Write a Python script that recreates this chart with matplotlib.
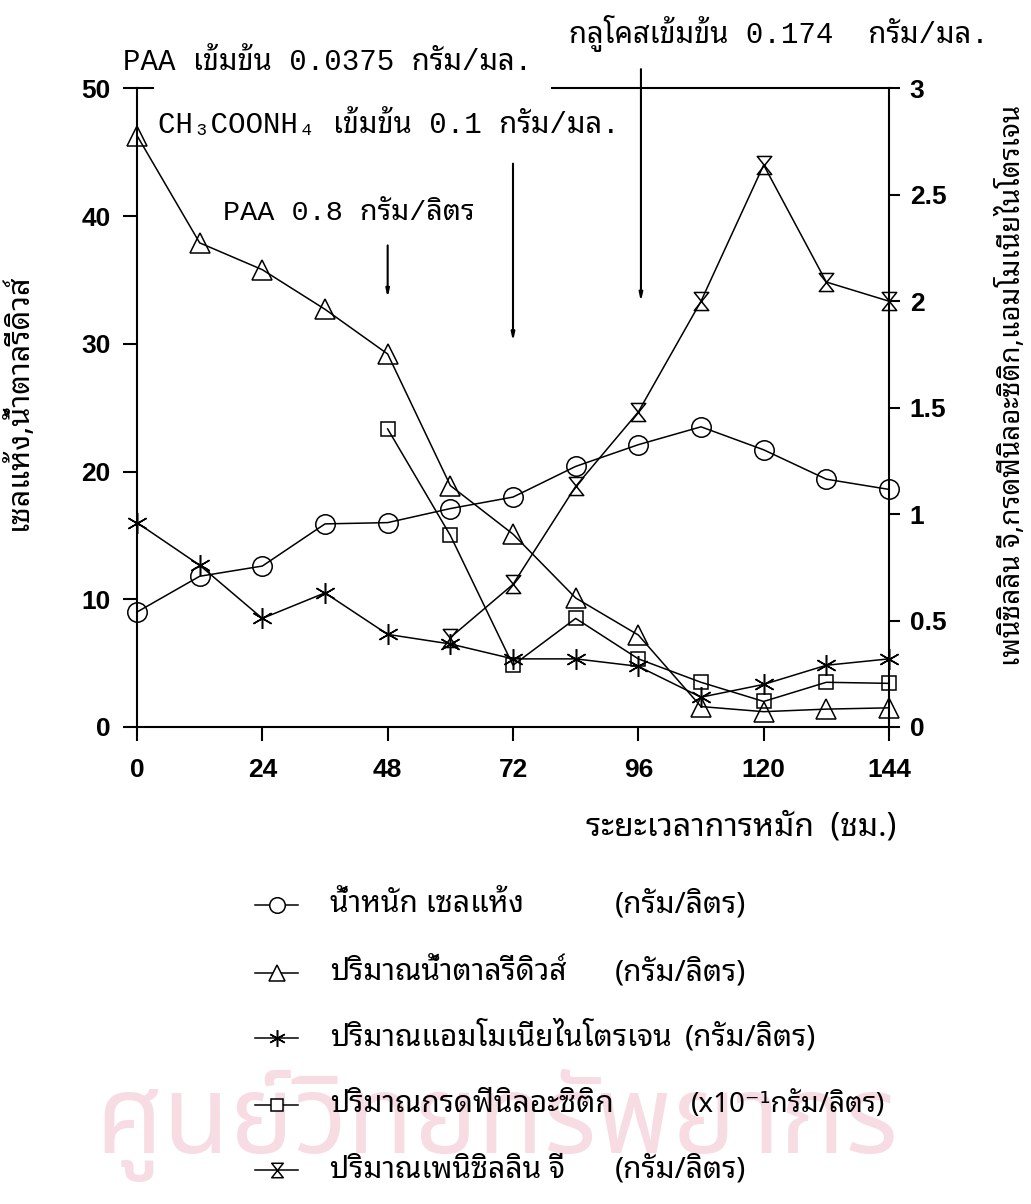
import matplotlib
matplotlib.use("Agg")
import matplotlib.pyplot as plt
from matplotlib.path import Path
from matplotlib.lines import Line2D
from matplotlib.font_manager import FontProperties

# fermentation time (h)
hours = [0, 12, 24, 36, 48, 60, 72, 84, 96, 108, 120, 132, 144]
# left axis (g/L)
cell_dry_wt = [9.0, 11.8, 12.6, 15.9, 16.0, 17.1, 18.0, 20.4, 22.1, 23.5, 21.7, 19.4, 18.6]
reducing_sugar = [46.3, 37.9, 35.8, 32.7, 29.2, 18.9, 15.1, 10.1, 7.2, 1.6, 1.2, 1.4, 1.5]
# right axis
ammonia_n = [0.96, 0.76, 0.51, 0.63, 0.435, 0.39, 0.32, 0.32, 0.285, 0.14, 0.20, 0.29, 0.32]
paa_hours = [48, 60, 72, 84, 96, 108, 120, 132, 144]
phenylacetic = [1.40, 0.90, 0.29, 0.51, 0.32, 0.21, 0.12, 0.21, 0.205]
pen_hours = [60, 72, 84, 96, 108, 120, 132, 144]
penicillin_g = [0.42, 0.67, 1.13, 1.48, 2.0, 2.64, 2.09, 2.0]

legend_names = ["น้ำหนัก เซลแห้ง", "ปริมาณน้ำตาลรีดิวส์", "ปริมาณแอมโมเนียไนโตรเจน",
                "ปริมาณกรดฟีนิลอะซิติก", "ปริมาณเพนิซิลลิน จี"]
legend_units = ["(กรัม/ลิตร)", "(กรัม/ลิตร)", "(กรัม/ลิตร)", "(x10⁻¹กรัม/ลิตร)", "(กรัม/ลิตร)"]

hourglass = Path([(-0.8, 1), (0.8, 1), (-0.8, -1), (0.8, -1), (-0.8, 1)],
                 [Path.MOVETO, Path.LINETO, Path.LINETO, Path.LINETO, Path.CLOSEPOLY])
markers = ["o", "^", (6, 2, 0), "s", hourglass]
msizes = [14, 14, 15, 10, 13]

TH = ["Noto Sans Thai Looped", "DejaVu Sans"]
MONO = ["Liberation Mono", "Noto Sans Thai Looped", "DejaVu Sans"]
NUM = FontProperties(family="Liberation Sans", weight="bold", size=19)

W, H = 1031, 1204
fig = plt.figure(figsize=(W / 100, H / 100), dpi=100)
ax = fig.add_axes([137 / W, 1 - 727 / H, 752 / W, (727 - 88.3) / H])
ax2 = ax.twinx()

kw = dict(color="black", lw=1.1, mfc="none", mec="black", mew=1.1, clip_on=False)
ax.plot(hours, cell_dry_wt, marker=markers[0], ms=msizes[0], **kw)
ax.plot(hours, reducing_sugar, marker=markers[1], ms=msizes[1], **kw)
ax2.plot(hours, ammonia_n, marker=markers[2], ms=msizes[2], **kw)
ax2.plot(paa_hours, phenylacetic, marker=markers[3], ms=msizes[3], **kw)
ax2.plot(pen_hours, penicillin_g, marker=markers[4], ms=msizes[4], **kw)

ax.set_xlim(0, 144)
ax.set_ylim(0, 50)
ax2.set_ylim(0, 3)
ax.set_xticks(range(0, 145, 24))
ax.set_yticks(range(0, 51, 10))
ax2.set_yticks([0, 0.5, 1, 1.5, 2, 2.5, 3])
ax2.set_yticklabels(["0", "0.5", "1", "1.5", "2", "2.5", "3"])

for a in (ax, ax2):
    for s in a.spines.values():
        s.set_linewidth(1.5)
ax.spines["right"].set_visible(False)
ax2.spines["left"].set_visible(False)
ax2.spines["bottom"].set_visible(False)
ax2.spines["top"].set_visible(False)
ax.spines["top"].set_bounds(79.5, 144)
ax.plot([0, 3.1], [50, 50], color="black", lw=1.5, clip_on=False)

ax.tick_params(axis="both", direction="out", length=10, width=1.5)
ax.tick_params(axis="x", pad=12)
ax.tick_params(axis="y", pad=9)
ax2.tick_params(axis="y", direction="out", length=8, width=1.5, pad=7)
for lab in ax.get_xticklabels() + ax.get_yticklabels() + ax2.get_yticklabels():
    lab.set_fontproperties(NUM)

ax.set_ylabel("เซลแห้ง,น้ำตาลรีดิวส์", family=TH, fontsize=22)
ax.yaxis.set_label_coords(-0.137, 0.51)
ax2.set_ylabel("เพนิซิลลิน จี,กรดฟีนิลอะซิติก,แอมโมเนียไนโตรเจน", family=TH,
               fontsize=20, rotation=90)
ax2.yaxis.set_label_coords(1.143, 0.535)

# arrows
arr = dict(arrowstyle="-|>,head_length=0.45,head_width=0.1", color="black", lw=1.5,
           shrinkA=0, shrinkB=0)
ax.annotate("", xy=(48, 33.6), xytext=(48, 37.7), arrowprops=arr, annotation_clip=False)
ax.annotate("", xy=(72, 30.2), xytext=(72, 44.1), arrowprops=arr, annotation_clip=False)
ax.annotate("", xy=(96.5, 33.3), xytext=(96.5, 51.5), arrowprops=arr, annotation_clip=False)


def px(x, y):
    return x / W, 1 - y / H


fig.text(*px(123, 62), "PAA เข้มข้น 0.0375 กรัม/มล.", family=MONO, fontsize=21, va="center")
fig.text(*px(158, 125), "CH₃COONH₄ เข้มข้น 0.1 กรัม/มล.", family=MONO, fontsize=21, va="center")
fig.text(*px(223, 213), "PAA 0.8 กรัม/ลิตร", family=MONO, fontsize=20.5, va="center")
fig.text(*px(569, 34), "กลูโคสเข้มข้น 0.174  กรัม/มล.", family=MONO, fontsize=21, va="center")

fig.text(*px(741, 827), "ระยะเวลาการหมัก  (ชม.)", family=TH, fontsize=23, ha="center", va="center")

# watermark text of the scanned page
fig.text(*px(95, 1125), "ศูนย์วิทยทรัพยากร", family=["Noto Sans Thai"], fontsize=78,
         color="#f7dde3", va="center", zorder=-5)

rows_y = [905, 973, 1038, 1105, 1170]
unit_x = [615, 615, 685, 691, 615]
for i in range(5):
    x0, y0 = px(255, rows_y[i])
    x1, _ = px(298, rows_y[i])
    xc, _ = px(277, rows_y[i])
    fig.add_artist(Line2D([x0, x1], [y0, y0], color="black", lw=1.1, transform=fig.transFigure))
    fig.add_artist(Line2D([xc], [y0], marker=markers[i], ms=msizes[i] * 0.8, mfc="white",
                          mec="black", mew=1.1, transform=fig.transFigure))
    fig.text(*px(330, rows_y[i]), legend_names[i], family=TH, fontsize=21.5, va="center")
    fig.text(*px(unit_x[i], rows_y[i]), legend_units[i], family=TH,
             fontsize=20 if i == 3 else 21.5, va="center")

fig.savefig("out.png", dpi=100)
